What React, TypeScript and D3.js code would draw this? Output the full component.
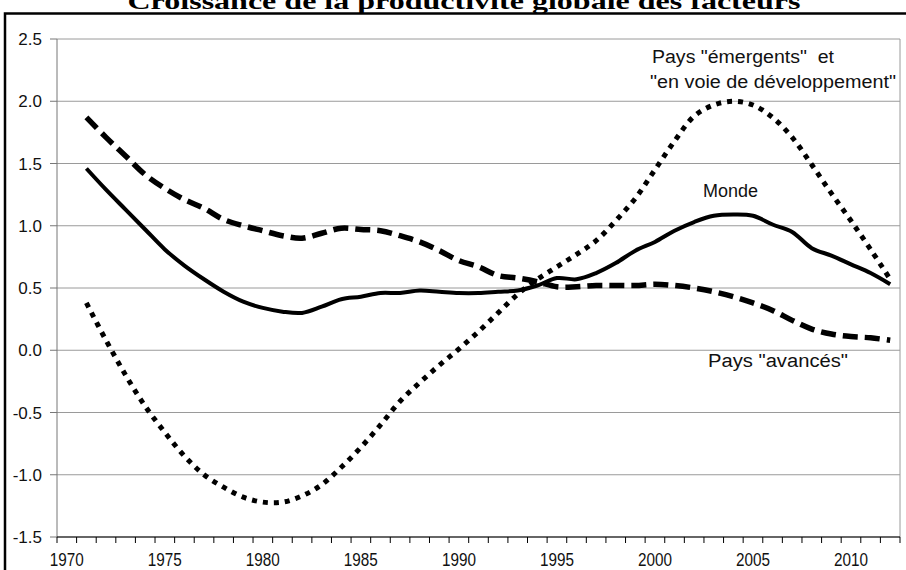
import React from "react";
import * as d3 from "d3";

const years: number[] = d3.range(1970, 2013);
const dataYears: number[] = d3.range(1971, 2013);

const monde: number[] = [
  1.46, 1.29, 1.13, 0.97, 0.81, 0.68, 0.57, 0.47, 0.39, 0.34, 0.31, 0.3, 0.35, 0.41,
  0.43, 0.46, 0.46, 0.48, 0.47, 0.46, 0.46, 0.47, 0.48, 0.52, 0.58, 0.57, 0.62, 0.7,
  0.8, 0.87, 0.96, 1.03, 1.08, 1.09, 1.08, 1.01, 0.95, 0.82, 0.76, 0.69, 0.62, 0.53,
];

const avances: number[] = [
  1.87, 1.71, 1.56, 1.41, 1.3, 1.21, 1.14, 1.05, 1.0, 0.96, 0.92, 0.9, 0.94, 0.98,
  0.97, 0.96, 0.92, 0.87, 0.8, 0.72, 0.67, 0.6, 0.58, 0.55, 0.51, 0.51, 0.52, 0.52,
  0.52, 0.53, 0.52, 0.5, 0.47, 0.43, 0.38, 0.32, 0.24, 0.17, 0.13, 0.11, 0.1, 0.08,
];

const emergents: number[] = [
  0.38, 0.08, -0.2, -0.45, -0.66, -0.85, -1.0, -1.1, -1.18, -1.22, -1.22, -1.17, -1.08,
  -0.94, -0.78, -0.6, -0.41, -0.26, -0.12, 0.01, 0.15, 0.3, 0.45, 0.57, 0.67, 0.77,
  0.88, 1.04, 1.22, 1.45, 1.68, 1.88, 1.97, 2.0, 1.97, 1.87, 1.71, 1.49, 1.26, 1.04,
  0.81, 0.57,
];

const yTicks: number[] = [-1.5, -1.0, -0.5, 0.0, 0.5, 1.0, 1.5, 2.0, 2.5];
const xLabelYears: number[] = [1970, 1975, 1980, 1985, 1990, 1995, 2000, 2005, 2010];

const title = "Croissance de la productivité globale des facteurs";
const labelEmergents1 = 'Pays "émergents"  et';
const labelEmergents2 = '"en voie de développement"';
const labelMonde = "Monde";
const labelAvances = 'Pays "avancés"';

export default function App() {
  const W = 906;
  const H = 570;
  const left = 57;
  const right = 900;
  const top = 39;
  const bottom = 537;

  const x = d3.scaleBand<number>().domain(years).range([left, right]).padding(0);
  const y = d3.scaleLinear().domain([-1.5, 2.5]).range([bottom, top]);
  const cx = (yr: number) => (x(yr) as number) + x.bandwidth() / 2;

  const line = d3
    .line<number>()
    .x((_, i) => cx(dataYears[i]))
    .y((d) => y(d))
    .curve(d3.curveCatmullRom.alpha(0.5));

  const font = "'Liberation Sans', Arial, sans-serif";

  return (
    <svg
      width={W}
      height={H}
      style={{ position: "absolute", left: 0, top: 0, background: "#fff" }}
    >
      <rect x={0} y={0} width={W} height={H} fill="#fff" />
      <text
        x={464}
        y={9}
        textAnchor="middle"
        fontFamily="'Liberation Serif', 'Times New Roman', serif"
        fontWeight="bold"
        fontSize={23}
        textLength={673}
        lengthAdjust="spacingAndGlyphs"
      >
        {title}
      </text>
      <rect x={5} y={13.5} width={910} height={570} fill="none" stroke="#000" strokeWidth={2.5} />

      {/* gridlines */}
      {yTicks.map((t) => (
        <line key={"g" + t} x1={left} x2={right} y1={y(t)} y2={y(t)} stroke="#9a9a9a" strokeWidth={1} />
      ))}
      <line x1={right} x2={right} y1={top} y2={bottom} stroke="#9a9a9a" strokeWidth={1} />

      {/* y axis */}
      <line x1={left} x2={left} y1={top} y2={bottom} stroke="#777" strokeWidth={1} />
      {yTicks.map((t) => (
        <g key={"yt" + t}>
          <line x1={left - 7} x2={left} y1={y(t)} y2={y(t)} stroke="#777" strokeWidth={1} />
          <text x={42} y={y(t) + 6} textAnchor="end" fontFamily={font} fontSize={17} fill="#111">
            {d3.format(".1f")(t).replace("−", "-")}
          </text>
        </g>
      ))}

      {/* x axis */}
      <line x1={left} x2={right} y1={bottom} y2={bottom} stroke="#000" strokeWidth={1.2} />
      {years.concat([2013]).map((yr) => {
        const xx = yr === 2013 ? right : (x(yr) as number);
        return <line key={"xt" + yr} x1={xx} x2={xx} y1={bottom} y2={bottom + 6} stroke="#000" strokeWidth={1} />;
      })}
      {xLabelYears.map((yr) => (
        <text
          key={"xl" + yr}
          x={cx(yr)}
          y={bottom + 29}
          textAnchor="middle"
          fontFamily={font}
          fontSize={18}
          fill="#111"
          textLength={34}
          lengthAdjust="spacingAndGlyphs"
        >
          {yr}
        </text>
      ))}

      {/* series */}
      <path d={line(emergents) || ""} fill="none" stroke="#000" strokeWidth={5} strokeDasharray="5,6" />
      <path d={line(avances) || ""} fill="none" stroke="#000" strokeWidth={5.5} strokeDasharray="15,7" />
      <path d={line(monde) || ""} fill="none" stroke="#000" strokeWidth={4} strokeLinejoin="round" />

      {/* labels */}
      <text x={652} y={63} fontFamily={font} fontSize={18} fill="#111" textLength={182} lengthAdjust="spacingAndGlyphs" xmlSpace="preserve">
        {labelEmergents1}
      </text>
      <text x={650} y={88} fontFamily={font} fontSize={18} fill="#111" textLength={246} lengthAdjust="spacingAndGlyphs">
        {labelEmergents2}
      </text>
      <text x={703} y={197} fontFamily={font} fontSize={18} fill="#111" textLength={55} lengthAdjust="spacingAndGlyphs">
        {labelMonde}
      </text>
      <text x={708} y={367} fontFamily={font} fontSize={18} fill="#111" textLength={140} lengthAdjust="spacingAndGlyphs">
        {labelAvances}
      </text>
    </svg>
  );
}
